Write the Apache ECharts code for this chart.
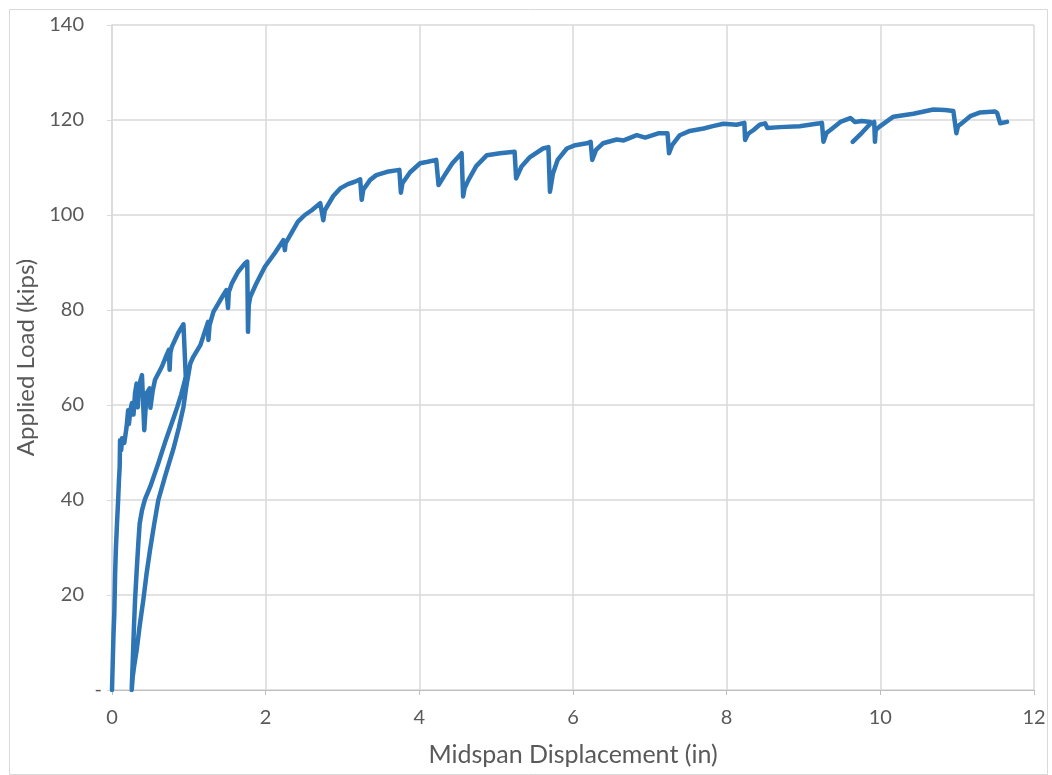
<!DOCTYPE html>
<html>
<head>
<meta charset="utf-8">
<title>Applied Load vs Midspan Displacement</title>
<script src="https://cdn.jsdelivr.net/npm/echarts@6/dist/echarts.min.js"></script>
<style>
  html, body { margin: 0; padding: 0; background: #ffffff; }
  #chart { width: 1052px; height: 775px; }
</style>
</head>
<body>
<div id="chart"></div>
<script>
// Midspan displacement (in); null marks a break in the recorded trace
const dispX = [
  0, 0.01, 0.02, 0.03, 0.04, 0.05, 0.065, 0.08, 0.09, 0.10, 0.105, 0.12, 0.13, 0.16, 0.19, 0.21, 0.22, 0.24, 0.26, 0.28,
  0.30, 0.32, 0.335, 0.35, 0.39, 0.41, 0.42, 0.45, 0.49, 0.50, 0.53, 0.56, 0.65, 0.71, 0.74, 0.75, 0.76, 0.78, 0.86, 0.93,
  0.96,
  // unloading
  0.94, 0.90, 0.85, 0.80, 0.70, 0.60, 0.50, 0.43, 0.39, 0.36, 0.343, 0.321, 0.30, 0.285, 0.27, 0.256,
  // reloading
  0.27, 0.29, 0.321, 0.36, 0.407, 0.45, 0.495, 0.55, 0.603, 0.70, 0.80, 0.87, 0.93, 0.97,
  1.02, 1.06, 1.15, 1.25, 1.255, 1.27, 1.32, 1.41, 1.49, 1.51, 1.52, 1.56, 1.64, 1.73, 1.76, 1.77, 1.78, 1.80, 1.87, 1.99,
  2.12, 2.23, 2.25, 2.26, 2.42, 2.51, 2.60, 2.71, 2.73, 2.75, 2.77, 2.88, 2.97, 3.07, 3.16, 3.23, 3.25, 3.27, 3.36, 3.44,
  3.58, 3.74, 3.76, 3.78, 3.88, 4.01, 4.11, 4.22, 4.25, 4.33, 4.43, 4.55, 4.57, 4.59, 4.64, 4.74, 4.88, 5.05, 5.24, 5.26,
  5.33, 5.44, 5.61, 5.68, 5.70, 5.74, 5.80, 5.92, 6.03, 6.18, 6.23, 6.25, 6.30, 6.39, 6.57, 6.66, 6.83, 6.94, 7.11, 7.23,
  7.25, 7.29, 7.39, 7.52, 7.70, 7.82, 7.96, 8.13, 8.23, 8.24, 8.28, 8.35, 8.43, 8.50, 8.53, 8.69, 8.95, 9.21, 9.24, 9.26,
  9.30, 9.35, 9.48, 9.61, 9.67, 9.76, 9.87,
  null,
  9.64, 9.76, 9.87, 9.92, 9.93, 9.94, 9.99, 10.17, 10.43, 10.69, 10.84, 10.95, 10.99, 11.01, 11.08, 11.17, 11.30, 11.49,
  11.52, 11.56, 11.65
];

// Applied load (kips), one value per displacement reading
const loadY = [
  0, 6, 12, 16, 24, 29.5, 35, 40, 44, 47, 52.6, 50.5, 53, 52, 55.4, 58.9, 56, 59, 60.4, 58,
  62.5, 64.5, 59.5, 64, 66.3, 66, 54.7, 62.5, 63.5, 59.4, 63, 65.3, 68.1, 70.5, 71.6, 67.4, 71, 72.3, 75.1, 77.0,
  66.0,
  64.6, 62.2, 59.6, 57.2, 52.6, 47.6, 42.9, 40.2, 37.8, 35, 31, 25, 18.9, 13, 6, 0,
  2.8, 5.2, 8.4, 13.5, 18.9, 24.5, 29.5, 35, 40, 45.5, 50.8, 55.2, 59.6, 64.2,
  68.8, 70.2, 72.6, 77.5, 73.7, 76.8, 79.6, 82.1, 84.2, 80.4, 83.8, 85.6, 88, 89.8, 90.2, 75.4, 81, 82.8, 85.3, 89.1,
  92, 94.7, 92.6, 94.1, 98.6, 100, 101, 102.5, 102.8, 98.9, 101, 104, 105.6, 106.5, 107, 107.5, 103.2, 105.3, 107.4, 108.4,
  109.1, 109.5, 104.7, 106.7, 109, 110.9, 111.2, 111.6, 106.3, 108.4, 110.9, 113, 103.9, 105.7, 107.4, 110.3, 112.6, 113, 113.3, 107.7,
  110.2, 112.2, 114, 114.3, 104.9, 108.8, 111.6, 114, 114.7, 115.1, 115.4, 111.6, 113.7, 115.1, 115.9, 115.7, 116.8, 116.3, 117.2, 117.2,
  113, 114.7, 116.8, 117.7, 118.2, 118.7, 119.2, 119, 119.4, 115.8, 117.1, 117.9, 119, 119.3, 118.3, 118.5, 118.7, 119.3, 119.4, 115.4,
  117.3, 117.9, 119.6, 120.4, 119.6, 119.8, 119.6,
  null,
  115.4, 117.3, 119.2, 119.6, 115.4, 117.9, 118.6, 120.7, 121.3, 122.2, 122.1, 121.9, 117.2, 118.7, 119.6, 120.8, 121.6, 121.8,
  121.5, 119.3, 119.6
];

// Axis tick values
const xTicks = [0, 2, 4, 6, 8, 10, 12];
const yTicks = [0, 20, 40, 60, 80, 100, 120, 140];

const xTitle = 'Midspan Displacement (in)';
const yTitle = 'Applied Load (kips)';

const points = dispX.map((x, i) => (x === null || loadY[i] === null) ? '-' : [x, loadY[i]]);

const FONT = "Lato, 'Open Sans', sans-serif";
const TEXT = '#595959';
const GRID = '#D9D9D9';

const chart = echarts.init(document.getElementById('chart'), null, { renderer: 'canvas' });

chart.setOption({
  animation: false,
  backgroundColor: '#ffffff',
  graphic: [{
    type: 'rect',
    left: 7, top: 7,
    shape: { width: 1038, height: 765 },
    style: { fill: 'none', stroke: GRID, lineWidth: 1 },
    silent: true
  }],
  grid: { left: 112, right: 18, top: 25, bottom: 85, containLabel: false },
  xAxis: {
    type: 'value',
    min: xTicks[0],
    max: xTicks[xTicks.length - 1],
    interval: xTicks[1] - xTicks[0],
    name: xTitle,
    nameLocation: 'middle',
    nameGap: 52,
    nameTextStyle: { color: TEXT, fontFamily: FONT, fontSize: 25 },
    axisLine: { show: true, onZero: false, lineStyle: { color: '#BFBFBF', width: 1 } },
    axisTick: { show: true, length: 5, lineStyle: { color: '#BFBFBF' } },
    axisLabel: { color: TEXT, fontFamily: FONT, fontSize: 20, margin: 18 },
    splitLine: { show: true, lineStyle: { color: GRID, width: 1.5 } }
  },
  yAxis: [{
    type: 'value',
    min: yTicks[0],
    max: yTicks[yTicks.length - 1],
    interval: yTicks[1] - yTicks[0],
    name: yTitle,
    nameLocation: 'middle',
    nameGap: 70,
    nameRotate: 90,
    nameTextStyle: { color: TEXT, fontFamily: FONT, fontSize: 24 },
    axisLine: { show: true, lineStyle: { color: GRID, width: 1.5 } },
    axisTick: { show: true, length: 5, lineStyle: { color: GRID } },
    axisLabel: {
      color: TEXT, fontFamily: FONT, fontSize: 20, margin: 28,
      formatter: v => v === 0 ? '' : String(v)
    },
    splitLine: { show: true, lineStyle: { color: GRID, width: 1.5 } }
  }, {
    // zero is shown as a dash, set closer to the axis
    type: 'value',
    position: 'left',
    min: yTicks[0],
    max: yTicks[yTicks.length - 1],
    interval: yTicks[1] - yTicks[0],
    axisLine: { show: false },
    axisTick: { show: false },
    splitLine: { show: false },
    axisLabel: {
      color: TEXT, fontFamily: FONT, fontSize: 20, margin: 10,
      formatter: v => v === 0 ? '-' : ''
    }
  }],
  series: [{
    type: 'line',
    data: points,
    showSymbol: false,
    connectNulls: false,
    lineStyle: { color: '#2E75B6', width: 4.5, join: 'round', cap: 'round' },
    itemStyle: { color: '#2E75B6' },
    silent: true
  }]
});
</script>
</body>
</html>
